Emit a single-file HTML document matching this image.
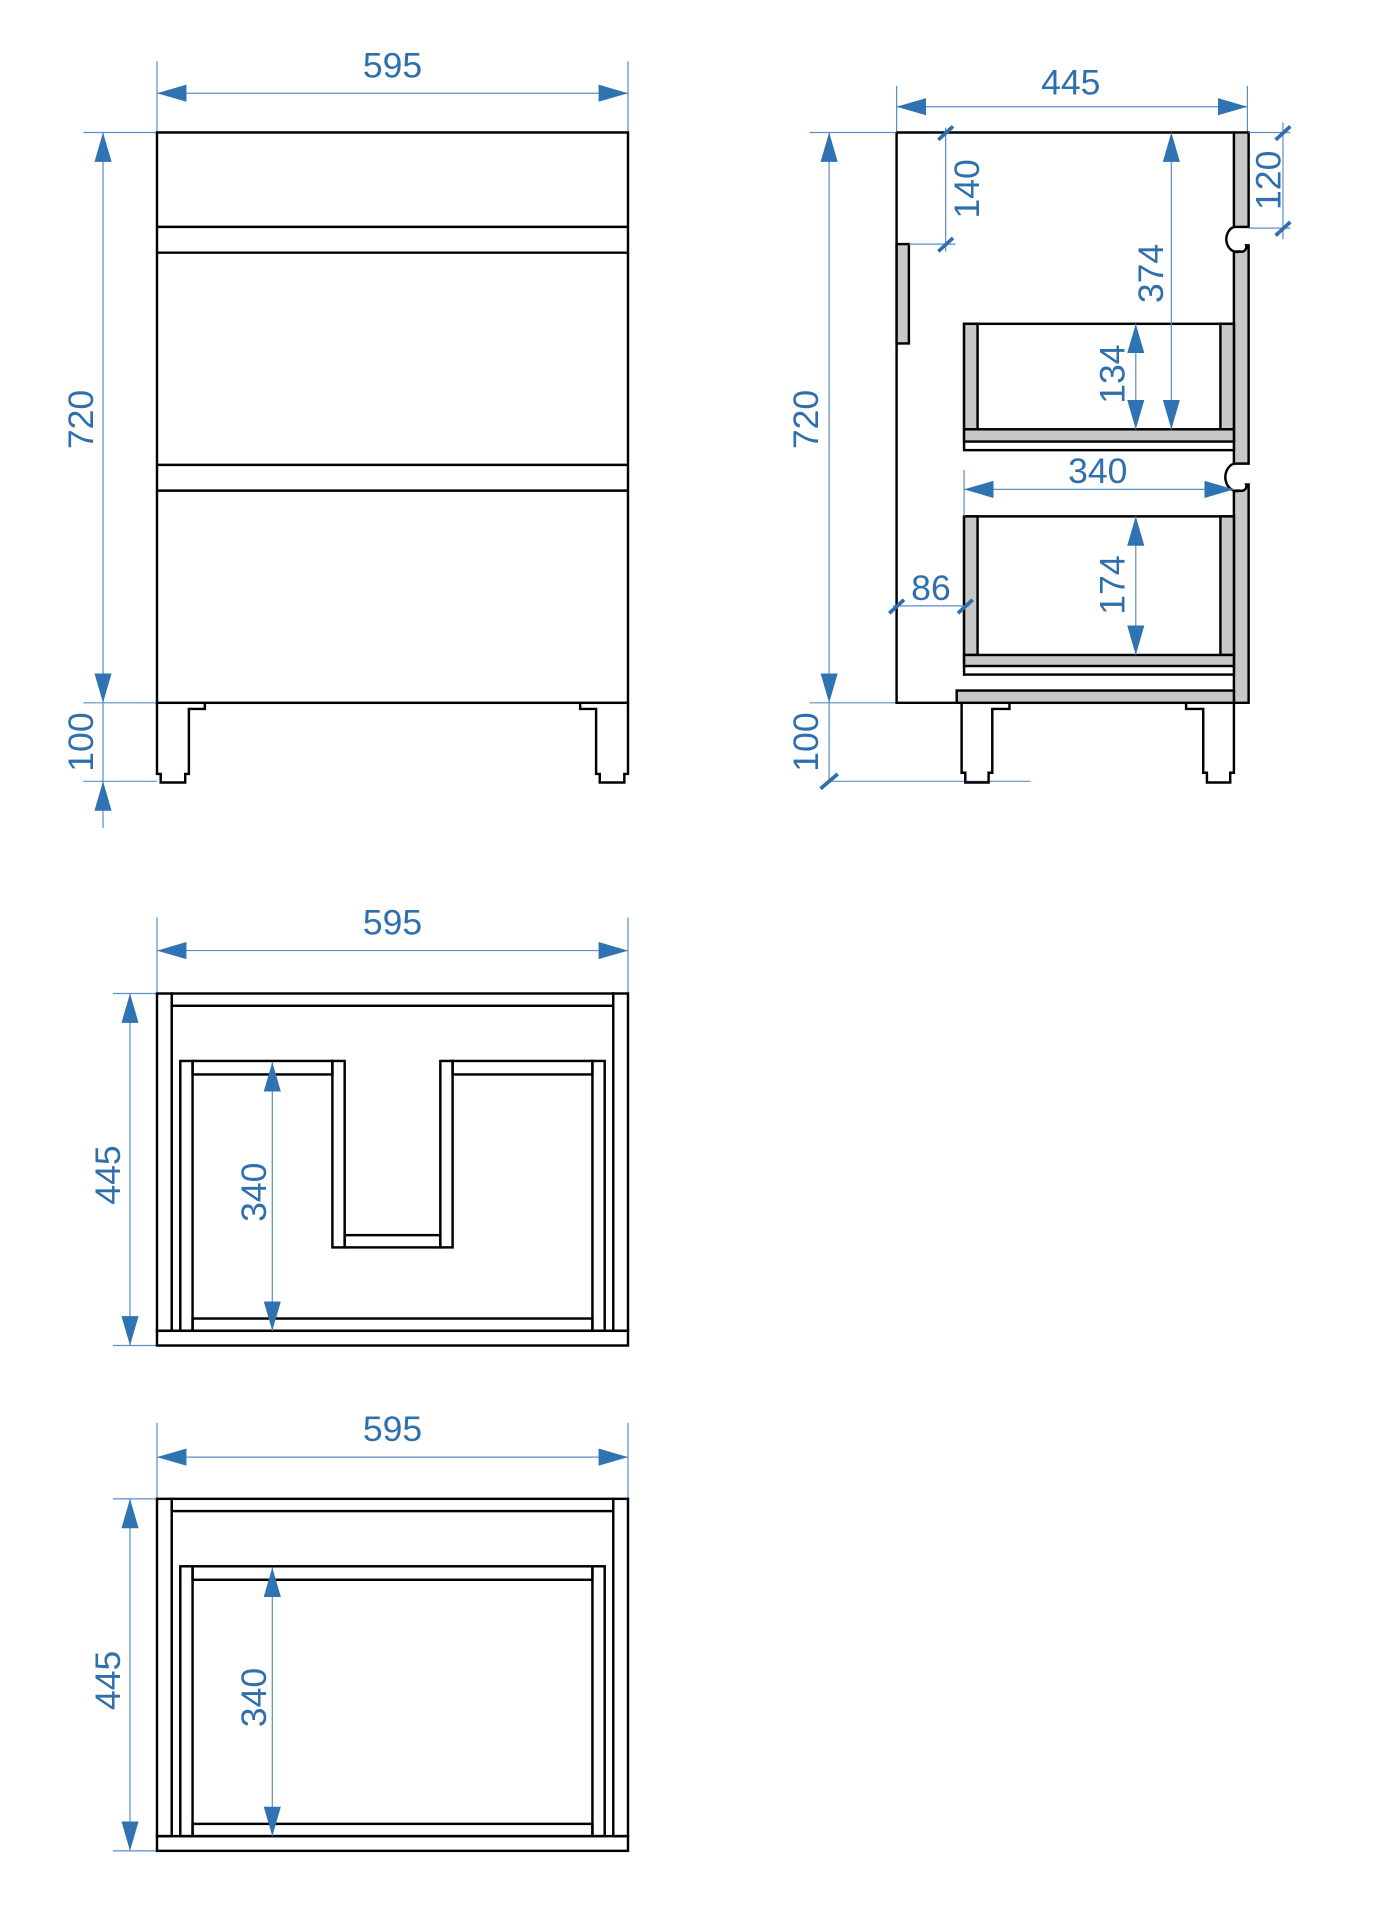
<!DOCTYPE html>
<html><head><meta charset="utf-8"><style>html,body{margin:0;padding:0;background:#fff}svg{display:block}</style></head>
<body>
<svg width="1386" height="1915" viewBox="0 0 1130 1561.3" preserveAspectRatio="none" xmlns="http://www.w3.org/2000/svg">
<defs>
<marker id="a" viewBox="0 0 24 14" refX="24" refY="7" markerWidth="24" markerHeight="14" markerUnits="userSpaceOnUse" orient="auto-start-reverse"><path d="M0,0 L24,7 L0,14 Z" fill="#2f73b3"/></marker>
</defs>
<style>
.d{stroke:#5b8fc7;stroke-width:1;fill:none}
.da{stroke:#5b8fc7;stroke-width:1;fill:none;marker-start:url(#a);marker-end:url(#a)}
.k{stroke:#000;stroke-width:2;fill:none}
.g{stroke:#000;stroke-width:2;fill:#c8c8c8}
.w{stroke:#000;stroke-width:2;fill:#fff}
.t{fill:#2f6fae;font-family:"Liberation Sans",sans-serif;font-size:29px;text-anchor:middle}
.tk{stroke:#2f6fae;stroke-width:3}
</style>

<!-- FRONT VIEW -->
<line class="d" x1="128" y1="50" x2="128" y2="108"/><line class="d" x1="512" y1="50" x2="512" y2="108"/>
<line class="da" x1="128" y1="76" x2="512" y2="76"/>
<text class="t" x="320" y="63">595</text>
<line class="d" x1="68" y1="108" x2="128" y2="108"/><line class="d" x1="68" y1="573" x2="128" y2="573"/><line class="d" x1="68" y1="637" x2="128" y2="637"/>
<line class="da" x1="84" y1="108" x2="84" y2="573"/>
<line class="d" x1="84" y1="573" x2="84" y2="675"/>
<path d="M77,661 L84,637 L91,661 Z" fill="#2f73b3"/>
<text class="t" transform="translate(76,342) rotate(-90)">720</text>
<text class="t" transform="translate(76,605) rotate(-90)">100</text>
<rect class="k" x="128" y="108" width="384" height="465"/>
<line class="k" x1="128" y1="185" x2="512" y2="185"/><line class="k" x1="128" y1="206" x2="512" y2="206"/>
<line class="k" x1="128" y1="379" x2="512" y2="379"/><line class="k" x1="128" y1="400" x2="512" y2="400"/>
<path class="k" d="M128,573 L128,631 L131,631 L131,638 L151,638 L151,631 L154,631 L154,578 L167,578 L167,573"/>
<path class="k" d="M512,573 L512,631 L509,631 L509,638 L489,638 L489,631 L486,631 L486,578 L473,578 L473,573"/>

<!-- SIDE VIEW -->
<line class="d" x1="731" y1="70" x2="731" y2="108"/><line class="d" x1="1017" y1="70" x2="1017" y2="108"/>
<line class="da" x1="731" y1="87" x2="1017" y2="87"/>
<text class="t" x="873" y="77">445</text>
<line class="d" x1="660" y1="108" x2="731" y2="108"/><line class="d" x1="660" y1="573" x2="781" y2="573"/>
<line class="da" x1="676" y1="108" x2="676" y2="573"/>
<line class="d" x1="676" y1="573" x2="676" y2="637"/>
<line class="d" x1="676" y1="637" x2="840" y2="637"/>
<line class="tk" x1="669" y1="643" x2="683" y2="631"/>
<text class="t" transform="translate(667,342) rotate(-90)">720</text>
<text class="t" transform="translate(667,605) rotate(-90)">100</text>
<path class="k" d="M731,108 L1006,108 M731,108 L731,573 L781,573"/>
<rect class="g" x="1006" y="108" width="12" height="77"/>
<path class="g" d="M1006,205 L1011,205 A4,4 0 0 0 1016,200 L1018,200 L1018,378 L1006,378 Z"/>
<path class="g" d="M1006,400 L1011,400 A4,4 0 0 0 1016,395 L1018,395 L1018,573 L1006,573 Z"/>
<path class="k" d="M1006,185 A5,6 0 0 0 1011,205 M1006,378 A5,6 0 0 0 1011,400"/>
<rect class="g" x="731" y="199" width="10" height="81"/>
<rect class="w" x="786" y="264" width="220" height="103"/>
<rect class="g" x="786" y="264" width="11" height="86"/>
<rect class="g" x="995" y="264" width="11" height="86"/>
<rect class="g" x="786" y="350" width="220" height="10"/>
<rect class="w" x="786" y="421" width="220" height="129"/>
<rect class="g" x="786" y="421" width="11" height="113"/>
<rect class="g" x="995" y="421" width="11" height="113"/>
<rect class="g" x="786" y="534" width="220" height="9"/>
<rect class="g" x="780" y="563" width="226" height="10"/>
<path class="k" d="M784,573 L784,630 L787,630 L787,638 L806,638 L806,630 L809,630 L809,578 L823,578 L823,573"/>
<path class="k" d="M1006,573 L1006,630 L1003,630 L1003,638 L984,638 L984,630 L981,630 L981,578 L967,578 L967,573"/>
<line class="d" x1="741" y1="199" x2="779" y2="199"/>
<line class="d" x1="771" y1="104" x2="771" y2="205"/>
<line class="tk" x1="765" y1="114" x2="777" y2="103"/><line class="tk" x1="765" y1="205" x2="777" y2="194"/>
<text class="t" transform="translate(798,154) rotate(-90)">140</text>
<line class="d" x1="1018" y1="108" x2="1052" y2="108"/><line class="d" x1="1018" y1="186" x2="1052" y2="186"/>
<line class="d" x1="1046" y1="100" x2="1046" y2="195"/>
<line class="tk" x1="1040" y1="114" x2="1052" y2="103"/><line class="tk" x1="1040" y1="192" x2="1052" y2="181"/>
<text class="t" transform="translate(1044,147) rotate(-90)">120</text>
<line class="da" x1="955" y1="108" x2="955" y2="350"/>
<text class="t" transform="translate(948,223) rotate(-90)">374</text>
<line class="da" x1="926" y1="264" x2="926" y2="350"/>
<text class="t" transform="translate(917,305) rotate(-90)">134</text>
<line class="d" x1="786" y1="383" x2="786" y2="421"/>
<line class="da" x1="786" y1="399" x2="1006" y2="399"/>
<text class="t" x="895" y="394">340</text>
<line class="da" x1="926" y1="421" x2="926" y2="534"/>
<text class="t" transform="translate(917,477) rotate(-90)">174</text>
<line class="d" x1="728" y1="494" x2="790" y2="494"/>
<line class="tk" x1="725" y1="500" x2="737" y2="489"/><line class="tk" x1="781" y1="500" x2="793" y2="489"/>
<text class="t" x="759" y="489">86</text>

<!-- PLAN VIEW 1 -->
<line class="d" x1="128" y1="748" x2="128" y2="810"/><line class="d" x1="512" y1="748" x2="512" y2="810"/>
<line class="da" x1="128" y1="775" x2="512" y2="775"/>
<text class="t" x="320" y="762">595</text>
<line class="d" x1="92" y1="810" x2="128" y2="810"/><line class="d" x1="92" y1="1097" x2="128" y2="1097"/>
<line class="da" x1="106" y1="810" x2="106" y2="1097"/>
<text class="t" transform="translate(98,958) rotate(-90)">445</text>
<rect class="k" x="128" y="810" width="12" height="275"/>
<rect class="k" x="500" y="810" width="12" height="275"/>
<rect class="k" x="140" y="810" width="360" height="10"/>
<rect class="k" x="128" y="1085" width="384" height="12"/>
<rect class="k" x="147" y="865" width="10" height="220"/>
<rect class="k" x="483" y="865" width="10" height="220"/>
<rect class="k" x="157" y="1075" width="326" height="10"/>
<rect class="k" x="157" y="865" width="114" height="11"/>
<rect class="k" x="369" y="865" width="114" height="11"/>
<rect class="k" x="271" y="865" width="10" height="152"/>
<rect class="k" x="359" y="865" width="10" height="152"/>
<rect class="k" x="281" y="1007" width="78" height="10"/>
<line class="da" x1="222" y1="866" x2="222" y2="1085"/>
<text class="t" transform="translate(217,972) rotate(-90)">340</text>

<!-- PLAN VIEW 2 -->
<line class="d" x1="128" y1="1160" x2="128" y2="1222"/><line class="d" x1="512" y1="1160" x2="512" y2="1222"/>
<line class="da" x1="128" y1="1188" x2="512" y2="1188"/>
<text class="t" x="320" y="1175">595</text>
<line class="d" x1="92" y1="1222" x2="128" y2="1222"/><line class="d" x1="92" y1="1509" x2="128" y2="1509"/>
<line class="da" x1="106" y1="1222" x2="106" y2="1509"/>
<text class="t" transform="translate(98,1370) rotate(-90)">445</text>
<rect class="k" x="128" y="1222" width="12" height="275"/>
<rect class="k" x="500" y="1222" width="12" height="275"/>
<rect class="k" x="140" y="1222" width="360" height="10"/>
<rect class="k" x="128" y="1497" width="384" height="12"/>
<rect class="k" x="147" y="1277" width="10" height="220"/>
<rect class="k" x="483" y="1277" width="10" height="220"/>
<rect class="k" x="157" y="1487" width="326" height="10"/>
<rect class="k" x="157" y="1277" width="326" height="11"/>
<line class="da" x1="222" y1="1278" x2="222" y2="1497"/>
<text class="t" transform="translate(217,1384) rotate(-90)">340</text>
</svg>
</body></html>
